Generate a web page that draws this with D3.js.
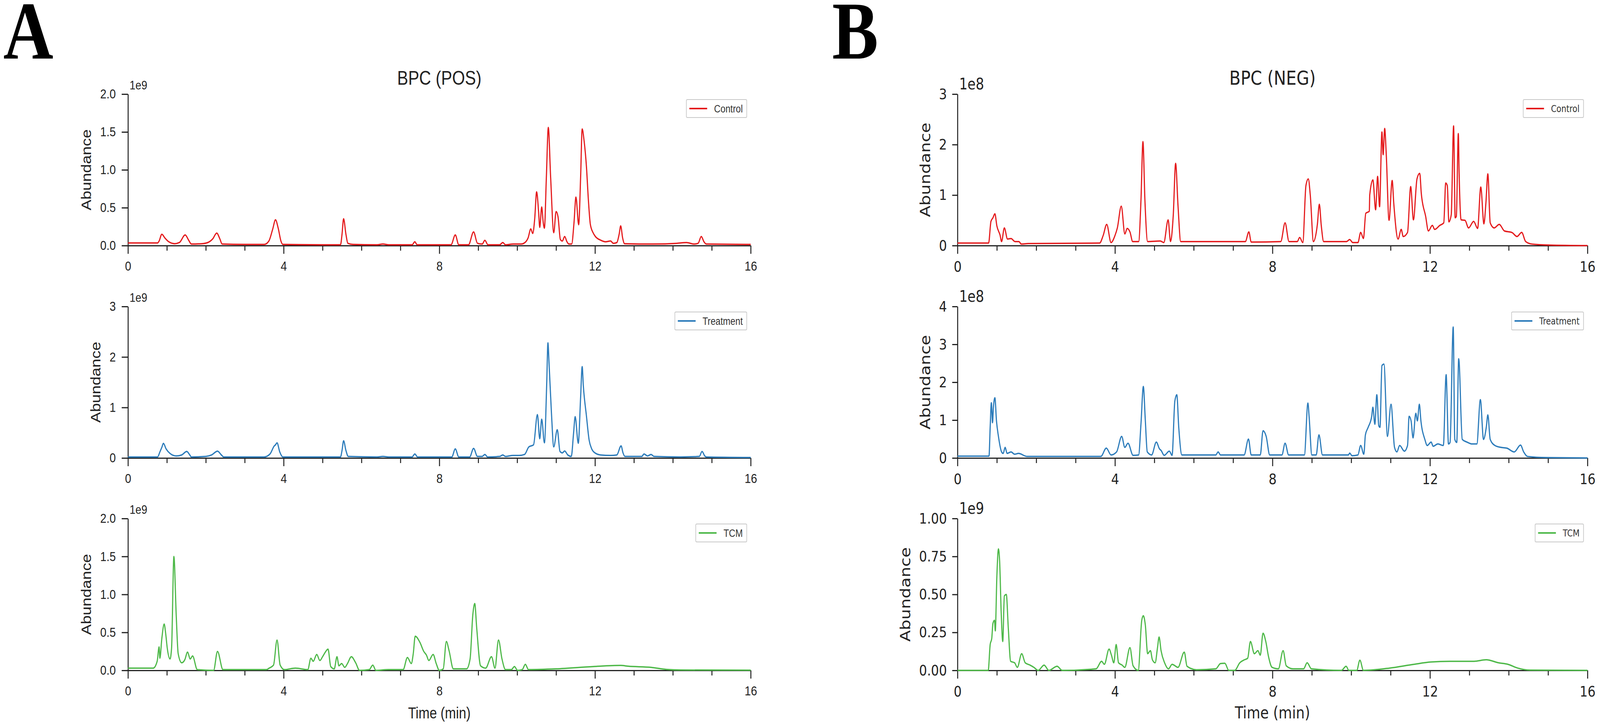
<!DOCTYPE html>
<html>
<head>
<meta charset="utf-8">
<script src="https://cdn.jsdelivr.net/npm/d3@7"></script>
<style>
  html, body { margin: 0; padding: 0; background: #fff; overflow: hidden; }
  svg { display: block; width: 100vw; height: 100vh; }
</style>
</head>
<body>
<svg></svg>
<script>
const width = 4851;
const height = 1862;

// group names and colours
const groups = ['Control', 'Treatment', 'TCM'];
const colors = ['#e41a1c', '#2b7bba', '#4db848'];

// [time (min), abundance]; POS in 1e9
const posControl = [[0,0.035],[0.76,0.035],[0.8,0.06],[0.87,0.15],[0.95,0.1],[1.05,0.05],[1.2,0.025],[1.32,0.04],[1.47,0.14],[1.56,0.07],[1.63,0.02],[1.9,0.025],[2.05,0.04],[2.18,0.09],[2.28,0.165],[2.36,0.09],[2.42,0.02],[3.0,0.015],[3.5,0.015],[3.62,0.06],[3.72,0.22],[3.79,0.34],[3.86,0.23],[3.93,0.06],[3.98,0.015],[5.0,0.01],[5.46,0.01],[5.5,0.15],[5.54,0.355],[5.6,0.15],[5.65,0.03],[5.78,0.015],[6.4,0.01],[6.55,0.02],[6.7,0.01],[7.3,0.01],[7.37,0.05],[7.43,0.01],[8.3,0.01],[8.41,0.14],[8.5,0.01],[8.75,0.01],[8.88,0.18],[8.98,0.03],[9.1,0.02],[9.17,0.07],[9.25,0.01],[9.55,0.01],[9.63,0.04],[9.7,0.01],[9.9,0.02],[10.1,0.02],[10.22,0.05],[10.28,0.1],[10.35,0.22],[10.4,0.16],[10.45,0.35],[10.5,0.71],[10.55,0.45],[10.58,0.24],[10.63,0.51],[10.67,0.3],[10.7,0.23],[10.75,0.9],[10.8,1.56],[10.86,0.9],[10.94,0.17],[11.0,0.45],[11.05,0.38],[11.11,0.08],[11.16,0.06],[11.22,0.12],[11.28,0.05],[11.33,0.02],[11.4,0.02],[11.46,0.3],[11.51,0.64],[11.58,0.275],[11.63,0.9],[11.67,1.54],[11.72,1.38],[11.78,1.04],[11.83,0.6],[11.88,0.28],[11.95,0.17],[12.01,0.12],[12.15,0.07],[12.27,0.05],[12.4,0.06],[12.47,0.03],[12.56,0.04],[12.62,0.15],[12.66,0.26],[12.71,0.1],[12.76,0.025],[13.5,0.02],[14.1,0.03],[14.35,0.04],[14.55,0.02],[14.65,0.03],[14.73,0.12],[14.8,0.05],[14.86,0.02],[16,0.015]];

const posTreatment = [[0,0.02],[0.76,0.02],[0.82,0.12],[0.87,0.21],[0.91,0.29],[0.98,0.18],[1.08,0.09],[1.24,0.04],[1.38,0.06],[1.51,0.13],[1.58,0.07],[1.63,0.02],[2.0,0.03],[2.15,0.06],[2.3,0.135],[2.4,0.06],[2.46,0.02],[3.5,0.02],[3.65,0.08],[3.76,0.24],[3.79,0.26],[3.83,0.3],[3.9,0.12],[3.98,0.02],[5.46,0.02],[5.5,0.15],[5.54,0.34],[5.6,0.15],[5.66,0.03],[6.4,0.02],[6.55,0.03],[6.7,0.02],[7.3,0.02],[7.37,0.08],[7.44,0.02],[8.32,0.02],[8.41,0.18],[8.5,0.02],[8.78,0.02],[8.88,0.19],[8.98,0.03],[9.1,0.03],[9.17,0.07],[9.24,0.02],[9.55,0.03],[9.63,0.06],[9.7,0.03],[9.89,0.05],[10.05,0.05],[10.19,0.07],[10.3,0.22],[10.42,0.26],[10.52,0.86],[10.58,0.38],[10.63,0.77],[10.7,0.3],[10.76,1.5],[10.79,2.28],[10.82,1.86],[10.88,0.9],[10.94,0.22],[11.03,0.56],[11.1,0.13],[11.16,0.1],[11.22,0.14],[11.3,0.06],[11.39,0.03],[11.45,0.5],[11.49,0.82],[11.57,0.29],[11.63,1.2],[11.67,1.81],[11.7,1.43],[11.78,0.83],[11.85,0.35],[11.91,0.19],[12.0,0.1],[12.14,0.06],[12.4,0.05],[12.56,0.06],[12.67,0.24],[12.72,0.1],[12.77,0.03],[13.2,0.03],[13.26,0.08],[13.35,0.04],[13.44,0.07],[13.52,0.03],[14.2,0.02],[14.68,0.03],[14.75,0.13],[14.82,0.04],[14.86,0.02],[16,0.01]];

const posTCM = [[0,0.03],[0.65,0.03],[0.75,0.12],[0.8,0.31],[0.82,0.16],[0.87,0.42],[0.93,0.61],[0.97,0.48],[1.01,0.29],[1.08,0.15],[1.12,0.29],[1.18,1.5],[1.24,0.72],[1.29,0.22],[1.38,0.1],[1.46,0.14],[1.53,0.24],[1.6,0.15],[1.66,0.19],[1.78,0.01],[2.2,0.0],[2.3,0.25],[2.44,0.01],[3.56,0.01],[3.63,0.03],[3.74,0.07],[3.83,0.4],[3.91,0.07],[4.02,0.01],[4.3,0.03],[4.62,0.01],[4.7,0.16],[4.76,0.12],[4.85,0.21],[4.93,0.13],[5.0,0.18],[5.07,0.24],[5.14,0.28],[5.21,0.05],[5.3,0.02],[5.37,0.18],[5.42,0.06],[5.49,0.09],[5.57,0.04],[5.64,0.09],[5.74,0.18],[5.85,0.1],[5.95,0.0],[6.2,0.01],[6.29,0.07],[6.37,0.0],[6.69,0.01],[7.07,0.01],[7.18,0.17],[7.28,0.09],[7.33,0.22],[7.38,0.45],[7.5,0.37],[7.6,0.25],[7.67,0.2],[7.73,0.13],[7.84,0.21],[7.92,0.09],[8.0,0.0],[8.1,0.02],[8.18,0.38],[8.25,0.26],[8.36,0.02],[8.7,0.02],[8.79,0.15],[8.86,0.73],[8.91,0.88],[8.96,0.56],[9.06,0.06],[9.19,0.03],[9.34,0.18],[9.43,0.03],[9.52,0.4],[9.61,0.15],[9.7,0.01],[9.85,0.01],[9.93,0.05],[10.01,0.0],[10.13,0.01],[10.21,0.08],[10.29,0.01],[11.0,0.02],[11.95,0.05],[12.66,0.065],[12.85,0.055],[13.44,0.04],[13.83,0.013],[14.2,0.005],[16,0.003]];

// NEG: control and treatment in 1e8, TCM in 1e9
const negControl = [[0,0.05],[0.79,0.05],[0.85,0.48],[0.9,0.55],[0.95,0.63],[1.0,0.39],[1.08,0.21],[1.12,0.08],[1.19,0.35],[1.27,0.13],[1.36,0.14],[1.46,0.08],[1.56,0.08],[1.62,0.03],[1.8,0.04],[3.61,0.05],[3.7,0.2],[3.79,0.42],[3.9,0.06],[4.0,0.2],[4.06,0.35],[4.16,0.78],[4.25,0.23],[4.31,0.34],[4.38,0.27],[4.45,0.08],[4.6,0.08],[4.66,0.9],[4.71,2.06],[4.76,0.9],[4.83,0.08],[5.15,0.09],[5.24,0.06],[5.35,0.51],[5.41,0.08],[5.48,0.6],[5.54,1.63],[5.6,0.8],[5.67,0.08],[7.31,0.08],[7.4,0.27],[7.46,0.07],[8.21,0.08],[8.32,0.45],[8.42,0.08],[8.63,0.08],[8.69,0.16],[8.77,0.06],[8.85,1.19],[8.91,1.32],[8.96,1.0],[9.04,0.08],[9.14,0.42],[9.19,0.82],[9.24,0.39],[9.3,0.08],[9.88,0.08],[9.96,0.12],[10.04,0.06],[10.17,0.06],[10.24,0.26],[10.31,0.14],[10.37,0.64],[10.46,0.68],[10.47,1.0],[10.55,1.3],[10.62,0.71],[10.67,1.37],[10.72,0.77],[10.78,2.25],[10.81,1.8],[10.85,2.32],[10.89,1.8],[10.96,0.5],[11.04,1.29],[11.08,0.84],[11.19,0.13],[11.27,0.32],[11.32,0.18],[11.43,0.26],[11.51,1.17],[11.58,0.51],[11.67,1.32],[11.74,1.43],[11.78,1.03],[11.89,0.58],[11.96,0.29],[12.06,0.4],[12.12,0.32],[12.25,0.4],[12.35,0.45],[12.4,1.24],[12.44,1.19],[12.48,0.47],[12.54,0.61],[12.6,2.37],[12.64,0.55],[12.67,0.58],[12.72,2.22],[12.74,1.45],[12.79,0.51],[12.89,0.5],[12.98,0.35],[13.11,0.48],[13.21,0.34],[13.29,1.16],[13.37,0.43],[13.42,0.84],[13.47,1.42],[13.53,0.45],[13.63,0.35],[13.76,0.42],[13.89,0.29],[14.08,0.26],[14.21,0.18],[14.33,0.26],[14.43,0.08],[14.59,0.03],[15.04,0.01],[16,0.0]];

const negTreatment = [[0,0.05],[0.8,0.05],[0.83,0.81],[0.86,1.46],[0.89,0.93],[0.91,1.3],[0.95,1.59],[0.99,0.98],[1.04,0.57],[1.12,0.16],[1.16,0.12],[1.21,0.28],[1.26,0.12],[1.36,0.16],[1.45,0.1],[1.55,0.12],[1.77,0.04],[3.64,0.04],[3.78,0.26],[3.9,0.08],[4.04,0.16],[4.17,0.57],[4.25,0.28],[4.33,0.39],[4.46,0.07],[4.6,0.08],[4.66,0.9],[4.72,1.89],[4.77,1.0],[4.82,0.16],[4.93,0.08],[5.05,0.42],[5.13,0.24],[5.17,0.2],[5.25,0.07],[5.38,0.18],[5.45,0.07],[5.52,1.5],[5.57,1.67],[5.62,0.8],[5.7,0.08],[6.56,0.08],[6.62,0.16],[6.68,0.08],[7.28,0.08],[7.39,0.5],[7.46,0.08],[7.69,0.08],[7.76,0.72],[7.84,0.57],[7.93,0.08],[8.24,0.08],[8.32,0.39],[8.41,0.08],[8.81,0.08],[8.9,1.45],[8.93,1.1],[9.0,0.08],[9.11,0.08],[9.18,0.61],[9.27,0.08],[9.93,0.08],[9.96,0.13],[10.02,0.06],[10.17,0.08],[10.24,0.33],[10.32,0.1],[10.36,0.61],[10.43,0.81],[10.52,1.1],[10.55,1.34],[10.6,0.89],[10.65,1.67],[10.7,0.85],[10.73,0.81],[10.78,2.44],[10.83,2.48],[10.92,0.57],[11.01,1.42],[11.1,0.28],[11.16,0.16],[11.23,0.33],[11.35,0.18],[11.43,0.33],[11.47,1.1],[11.52,0.98],[11.57,0.53],[11.64,1.18],[11.68,0.98],[11.73,1.42],[11.77,0.98],[11.87,0.49],[11.93,0.33],[12.03,0.42],[12.08,0.31],[12.2,0.37],[12.34,0.33],[12.41,2.2],[12.47,0.37],[12.51,0.41],[12.59,3.46],[12.63,0.49],[12.68,0.41],[12.73,2.62],[12.82,0.49],[12.94,0.42],[13.07,0.37],[13.19,0.37],[13.28,1.54],[13.36,0.49],[13.43,0.81],[13.47,1.14],[13.53,0.49],[13.65,0.33],[13.8,0.28],[13.95,0.26],[14.14,0.16],[14.3,0.34],[14.38,0.16],[14.48,0.04],[14.97,0.01],[16,0.0]];

const negTCM = [[0,0.0],[0.78,0.0],[0.83,0.17],[0.87,0.21],[0.9,0.31],[0.94,0.33],[0.96,0.26],[1.0,0.62],[1.04,0.8],[1.07,0.72],[1.11,0.38],[1.15,0.19],[1.19,0.49],[1.24,0.5],[1.29,0.28],[1.35,0.06],[1.45,0.05],[1.52,0.02],[1.63,0.11],[1.72,0.05],[1.84,0.035],[1.94,0.02],[2.05,0.0],[2.2,0.035],[2.32,0.0],[2.53,0.027],[2.66,0.0],[3.52,0.01],[3.66,0.06],[3.73,0.04],[3.85,0.14],[3.91,0.1],[3.97,0.05],[4.03,0.17],[4.09,0.05],[4.18,0.035],[4.25,0.02],[4.38,0.15],[4.46,0.03],[4.59,0.0],[4.68,0.33],[4.72,0.36],[4.77,0.3],[4.83,0.11],[4.9,0.13],[4.95,0.07],[5.02,0.05],[5.08,0.15],[5.12,0.22],[5.17,0.13],[5.26,0.05],[5.36,0.01],[5.45,0.04],[5.6,0.02],[5.76,0.12],[5.83,0.027],[6.07,0.004],[6.56,0.01],[6.68,0.045],[6.79,0.047],[6.89,0.0],[7.04,0.0],[7.17,0.05],[7.29,0.07],[7.37,0.08],[7.44,0.19],[7.54,0.11],[7.63,0.13],[7.69,0.1],[7.76,0.245],[7.83,0.19],[7.9,0.09],[7.99,0.02],[8.15,0.01],[8.27,0.13],[8.35,0.03],[8.52,0.01],[8.79,0.01],[8.88,0.05],[8.99,0.01],[9.75,0.0],[9.87,0.027],[9.94,0.0],[10.14,0.0],[10.22,0.067],[10.31,0.0],[10.97,0.015],[11.59,0.04],[12.02,0.055],[12.51,0.06],[13.12,0.06],[13.43,0.07],[13.74,0.05],[13.98,0.04],[14.23,0.015],[14.54,0.002],[16,0.0]];

// axis ticks
const xMajor = [0, 4, 8, 12, 16];
const xMinor = [1, 2, 3, 5, 6, 7, 9, 10, 11, 13, 14, 15];
const posYTicks = [[0, 0.5, 1, 1.5, 2], [0, 1, 2, 3], [0, 0.5, 1, 1.5, 2]];
const negYTicks = [[0, 1, 2, 3], [0, 1, 2, 3, 4], [0, 0.25, 0.5, 0.75, 1]];
const posYFormat = ['.1f', 'd', '.1f'];
const negYFormat = ['d', 'd', '.2f'];
const posExp = ['1e9', '1e9', '1e9'];
const negExp = ['1e8', '1e8', '1e9'];

const rowTop = [241, 785, 1328];
const rowBottom = [629, 1173, 1717];

// fixed drawing space, stretched over the whole window
const svg = d3.select('svg')
    .attr('viewBox', `0 0 ${width} ${height}`)
    .attr('preserveAspectRatio', 'none');

svg.append('rect')
    .attr('width', width)
    .attr('height', height)
    .attr('fill', '#fff');

const columns = [
    { letter: 'A', letterX: 10, x0: 388, x1: 2276, title: 'BPC (POS)',
      series: [posControl, posTreatment, posTCM], ticks: posYTicks, fmt: posYFormat, exp: posExp,
      font: '"Liberation Sans", Arial, sans-serif',
      tickFont: 34, expFont: 32, labelSize: 41, legendSize: 27, yTick: 19, yPad: 18 },
    { letter: 'B', letterX: 2523, x0: 2903, x1: 4813, title: 'BPC (NEG)',
      series: [negControl, negTreatment, negTCM], ticks: negYTicks, fmt: negYFormat, exp: negExp,
      font: '"DejaVu Sans", sans-serif',
      tickFont: 38, expFont: 40, labelSize: 43, legendSize: 24, yTick: 16, yPad: 16 }
];

columns.forEach(col => {
    const x = d3.scaleLinear().domain([0, 16]).range([col.x0, col.x1]);

    svg.append('text')
        .attr('x', col.letterX)
        .attr('y', 150)
        .attr('font-family', '"Liberation Serif", "Times New Roman", serif')
        .attr('font-weight', 'bold')
        .attr('font-size', 210)
        .attr('fill', '#000')
        .text(col.letter);

    svg.append('text')
        .attr('x', (col.x0 + col.x1) / 2)
        .attr('y', 217)
        .attr('text-anchor', 'middle')
        .attr('font-family', col.font)
        .attr('font-size', 50)
        .attr('fill', '#222')
        .text(col.title);

    col.series.forEach((data, i) => {
        const ticks = col.ticks[i];
        const y = d3.scaleLinear()
            .domain([0, ticks[ticks.length - 1]])
            .range([rowBottom[i], rowTop[i]]);
        const g = svg.append('g');

        // minor x ticks
        g.append('g')
            .attr('transform', `translate(0,${rowBottom[i]})`)
            .call(d3.axisBottom(x).tickValues(xMinor).tickSize(13).tickFormat(''))
            .call(a => a.select('.domain').remove());

        g.append('g')
            .attr('transform', `translate(0,${rowBottom[i]})`)
            .call(d3.axisBottom(x).tickValues(xMajor).tickSize(21).tickSizeOuter(0).tickPadding(19));

        const yAxis = g.append('g')
            .attr('transform', `translate(${col.x0},0)`)
            .call(d3.axisLeft(y).tickValues(ticks).tickSize(col.yTick).tickSizeOuter(0)
                .tickPadding(col.yPad).tickFormat(d3.format(col.fmt[i])));

        g.selectAll('.domain, .tick line')
            .attr('stroke', '#222')
            .attr('stroke-width', 3);
        g.selectAll('.tick text')
            .attr('fill', '#222')
            .attr('font-family', col.font)
            .attr('font-size', col.tickFont);

        // multiplier above the y axis
        g.append('text')
            .attr('x', col.x0 + 5)
            .attr('y', rowTop[i] - 12)
            .attr('font-family', col.font)
            .attr('font-size', col.expFont)
            .attr('fill', '#222')
            .text(col.exp[i]);

        // y label placed left of widest tick label
        let minX = Infinity;
        yAxis.selectAll('.tick text').each(function () {
            const b = this.getBBox();
            minX = Math.min(minX, b.x + col.x0);
        });
        g.append('text')
            .attr('transform', `translate(${minX - 42},${(rowTop[i] + rowBottom[i]) / 2}) rotate(-90)`)
            .attr('text-anchor', 'middle')
            .attr('dominant-baseline', 'central')
            .attr('font-family', col.font)
            .attr('font-size', col.labelSize)
            .attr('fill', '#222')
            .text('Abundance');

        const line = d3.line()
            .x(d => x(d[0]))
            .y(d => y(d[1]))
            .curve(d3.curveMonotoneX);

        g.append('path')
            .datum(data)
            .attr('d', line)
            .attr('fill', 'none')
            .attr('stroke', colors[i])
            .attr('stroke-width', 3.5)
            .attr('stroke-linejoin', 'round');

        // legend, upper right
        const lg = g.append('g');
        const box = lg.append('rect')
            .attr('fill', '#fff')
            .attr('stroke', '#c8c8c8')
            .attr('stroke-width', 2)
            .attr('rx', 3);
        const label = lg.append('text')
            .attr('font-family', col.font)
            .attr('font-size', col.legendSize)
            .attr('fill', '#333')
            .attr('dominant-baseline', 'central')
            .text(groups[i]);
        const tw = label.node().getComputedTextLength();
        const bw = 9 + 54 + 21 + tw + 12;
        const bh = 46;
        const bx = col.x1 - 12 - bw;
        const by = rowTop[i] + 14;
        box.attr('x', bx).attr('y', by).attr('width', bw).attr('height', bh);
        lg.append('line')
            .attr('x1', bx + 9).attr('x2', bx + 63)
            .attr('y1', by + bh / 2).attr('y2', by + bh / 2)
            .attr('stroke', colors[i])
            .attr('stroke-width', 4);
        label.attr('x', bx + 84).attr('y', by + bh / 2);
    });

    svg.append('text')
        .attr('x', (col.x0 + col.x1) / 2)
        .attr('y', 1840)
        .attr('text-anchor', 'middle')
        .attr('font-family', col.font)
        .attr('font-size', col.labelSize - 1)
        .attr('fill', '#222')
        .text('Time (min)');
});
</script>
</body>
</html>
